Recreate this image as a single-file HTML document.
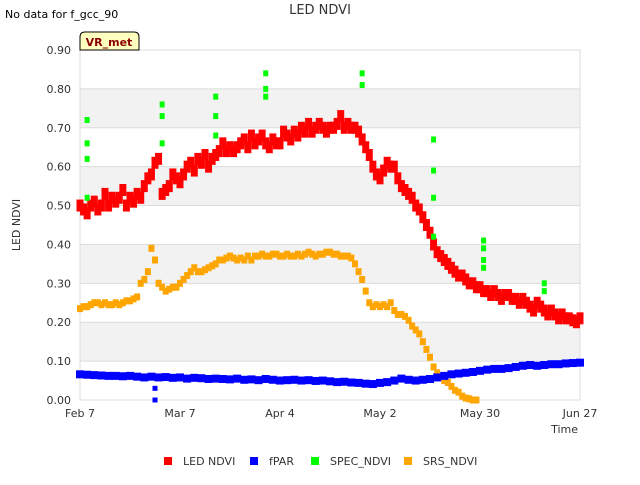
<!DOCTYPE html>
<html><head><meta charset="utf-8"><style>
body{margin:0;background:#fff;font-family:"Liberation Sans",sans-serif;}
svg text{font-family:"DejaVu Sans","Liberation Sans",sans-serif;}
</style></head><body>
<svg id="chart" width="640" height="480" xmlns="http://www.w3.org/2000/svg">
<text x="5" y="18" font-size="11" fill="#000">No data for f_gcc_90</text>
<text x="320" y="14" font-size="13" fill="#333" text-anchor="middle">LED NDVI</text>
<g id="grid"></g>
<g id="series"></g>
<g id="axes"></g>
<g>
<path d="M80,50 L80,37 Q80,32 85,32 L134,32 Q139,32 139,37 L139,50 Z" fill="#ffffc0" stroke="#000" stroke-width="1"/>
<text x="109" y="46" font-size="11" font-weight="bold" fill="#8b0000" text-anchor="middle">VR_met</text>
</g>
<text x="20" y="225" font-size="11" fill="#333" text-anchor="middle" transform="rotate(-90 20 225)">LED NDVI</text>
<text x="578" y="433" font-size="11" fill="#333" text-anchor="end">Time</text>
<g id="legend"></g>
</svg>
<script>
const yTicks=[0,0.1,0.2,0.3,0.4,0.5,0.6,0.7,0.8,0.9];
const xTickLabels=["Feb 7","Mar 7","Apr 4","May 2","May 30","Jun 27"];
const xTickDays=[0,28,56,84,112,140];
const ledNdvi=[.50,.49,.48,.50,.51,.49,.50,.53,.50,.52,
.51,.52,.54,.50,.52,.51,.53,.52,.55,.57,
.58,.61,.62,.53,.54,.55,.58,.57,.56,.58,
.60,.61,.59,.62,.61,.63,.60,.62,.63,.64,
.66,.64,.65,.64,.65,.66,.67,.65,.68,.66,
.67,.68,.66,.65,.67,.66,.66,.69,.68,.67,
.69,.68,.70,.69,.71,.69,.70,.71,.70,.69,
.70,.70,.71,.73,.70,.71,.70,.70,.69,.67,
.65,.63,.60,.58,.57,.59,.61,.60,.60,.57,
.55,.54,.53,.52,.50,.49,.47,.45,.43,.40,
.38,.37,.36,.35,.34,.33,.32,.32,.31,.30,
.30,.29,.29,.28,.28,.27,.28,.27,.26,.27,
.27,.26,.26,.25,.26,.25,.24,.23,.25,.24,
.23,.22,.23,.22,.21,.22,.21,.21,.205,.20,.21];
const srsNdvi=[.235,.24,.24,.245,.25,.25,.245,.25,.245,.245,
.25,.245,.25,.255,.255,.26,.265,.30,.31,.33,
.39,.36,.30,.29,.28,.285,.29,.29,.30,.31,
.32,.33,.34,.33,.33,.335,.34,.345,.35,.36,
.36,.365,.37,.365,.36,.365,.36,.37,.36,.37,
.37,.375,.37,.37,.375,.375,.37,.37,.375,.37,
.37,.375,.37,.375,.38,.375,.37,.375,.375,.38,
.38,.375,.375,.37,.37,.37,.365,.35,.33,.31,
.28,.25,.24,.245,.24,.245,.24,.25,.23,.22,
.22,.215,.205,.19,.18,.17,.15,.13,.11,.085,
.07,.06,.05,.045,.035,.025,.02,.01,.005,.003,0,0];
const fparDays2=[.066,.065,.064,.063,.062,.062,.061,.062,.060,.058,.060,.058,.059,.057,.058,.055,.057,.056,.054,.055,.054,
.053,.055,.052,.053,.051,.054,.052,.050,.051,.052,.050,.051,.049,.050,.048,.046,.047,.045,.044,.042,
.041,.044,.046,.050,.055,.052,.050,.052,.054,.058,
.062,.066,.068,.070,.072,.075,.078,.080,.080,.082,.085,.088,.090,.088,.090,.092,.092,.094,.095,.096];
const fparOutlierDays=[21,21];
const fparOutlierVals=[0.03,0.0];
const specDays=[2,2,2,2,23,23,23,38,38,38,52,52,52,79,79,99,99,99,99,113,113,113,113,130,130];
const specVals=[.72,.66,.62,.52,.76,.73,.66,.78,.73,.68,.84,.80,.78,.84,.81,.67,.59,.52,.42,.41,.39,.36,.34,.30,.28];
const X0=80,X1=580,Y0=400,Y1=50;
const xs=d=>X0+d*(X1-X0)/140;
const ys=v=>Y0-v*(Y0-Y1)/0.9;
const NS="http://www.w3.org/2000/svg";
function mk(tag,attrs,parent){const e=document.createElementNS(NS,tag);for(const k in attrs)e.setAttribute(k,attrs[k]);parent.appendChild(e);return e;}
const grid=document.getElementById('grid');
for(let i=0;i<yTicks.length-1;i++){
 if(i%2===1){const r=mk('rect',{x:X0,y:ys(yTicks[i+1]),width:X1-X0,height:ys(yTicks[i])-ys(yTicks[i+1]),fill:'#f2f2f2'},grid);
 
 }
}
for(const t of yTicks){const l=mk('line',{x1:X0,x2:X1,y1:ys(t),y2:ys(t),stroke:'#dcdcdc','stroke-width':1},grid);

}
mk('rect',{x:X0,y:Y1,width:X1-X0,height:Y0-Y1,fill:'none',stroke:'#dcdcdc'},grid);
const axes=document.getElementById('axes');
for(const t of yTicks){const tx=mk('text',{x:X0-9,y:ys(t)+4,'font-size':11,fill:'#333','text-anchor':'end'},axes);tx.textContent=t.toFixed(2);

}
xTickDays.forEach((d,i)=>{const tx=mk('text',{x:xs(d),y:Y0+17,'font-size':11,fill:'#333','text-anchor':'middle'},axes);tx.textContent=xTickLabels[i];

});
const S=document.getElementById('series');
function pt(x,y,w,h,c,name){const r=mk('rect',{x:x-w/2,y:y-h/2,width:w,height:h,fill:c},S);

}
srsNdvi.forEach((v,d)=>pt(xs(d),ys(v),6,7,'#ffa500','srs-ndvi-point'));
fparDays2.forEach((v,i)=>pt(xs(i*2),ys(v),8,8,'#0000ff','fpar-point'));
fparOutlierDays.forEach((d,i)=>pt(xs(d),ys(fparOutlierVals[i]),5,5,'#0000ff','fpar-point'));
ledNdvi.forEach((v,d)=>pt(xs(d),ys(v),7,12,'#ff0000','led-ndvi-point'));
specDays.forEach((d,i)=>pt(xs(d),ys(specVals[i]),5,6,'#00ff00','spec-ndvi-point'));
const leg=document.getElementById('legend');
const legNames=["LED NDVI","fPAR","SPEC_NDVI","SRS_NDVI"];
const legColors=["#ff0000","#0000ff","#00ff00","#ffa500"];
const legX=[164,250,311,404];
legNames.forEach((n,i)=>{const g=mk('g',{},leg);


mk('rect',{x:legX[i],y:457,width:8,height:8,fill:legColors[i]},g);
const t=mk('text',{x:legX[i]+19,y:465,'font-size':11,fill:'#333'},g);t.textContent=n;});
</script>
</body></html>
